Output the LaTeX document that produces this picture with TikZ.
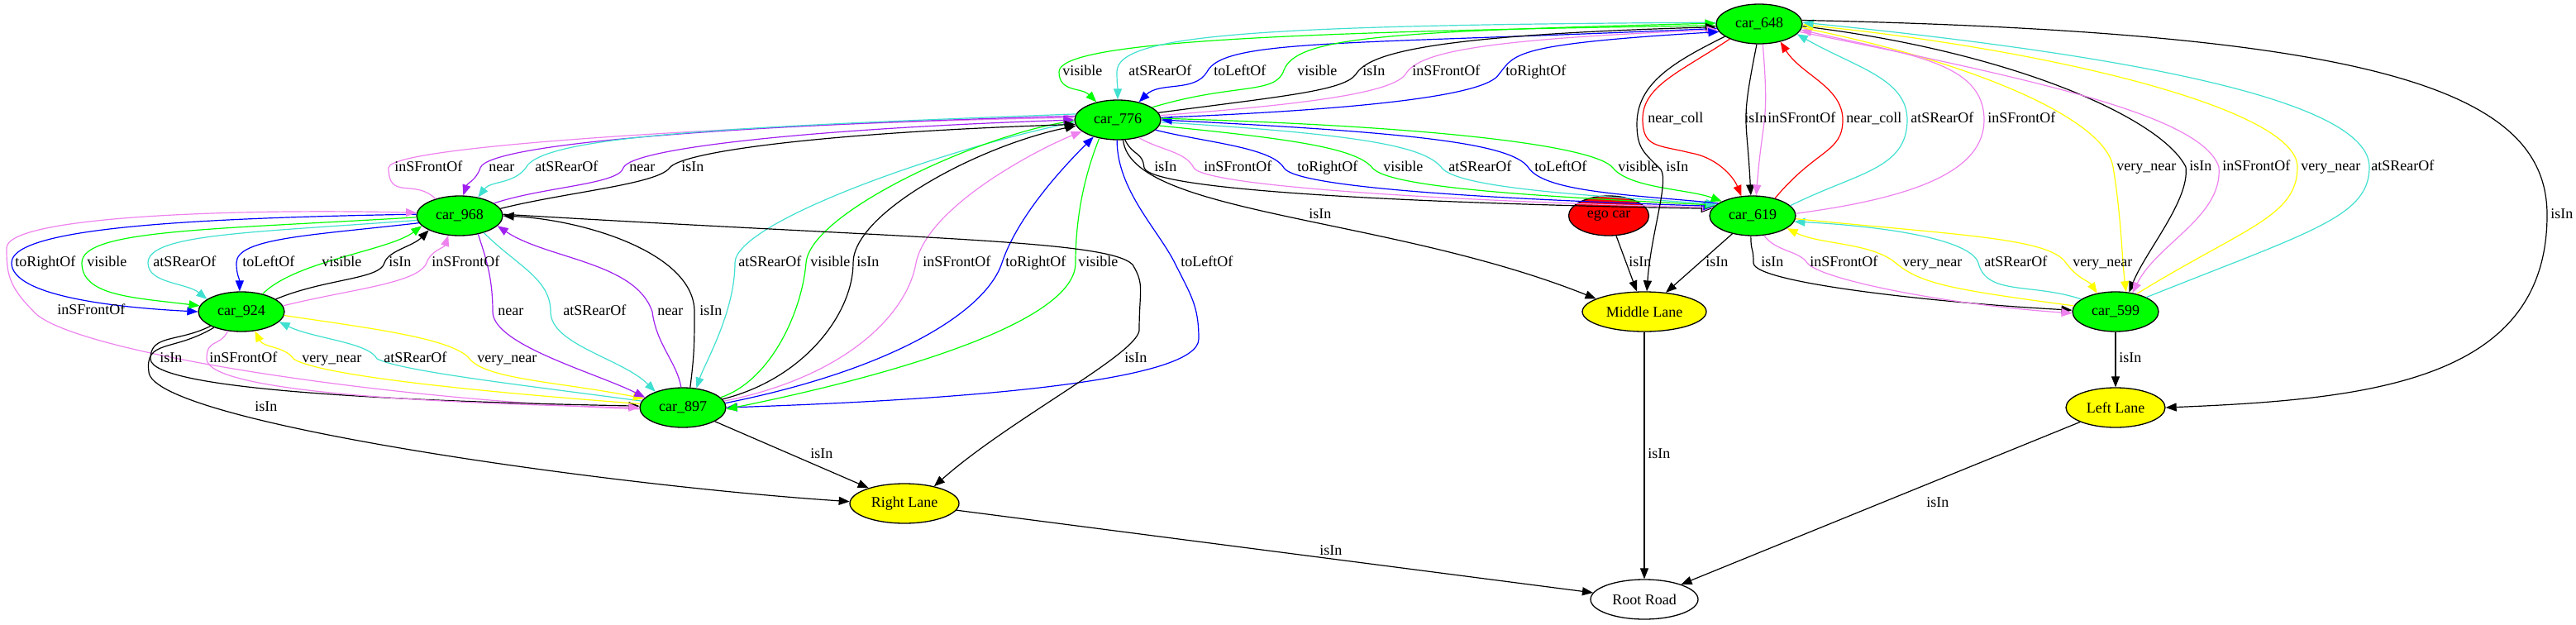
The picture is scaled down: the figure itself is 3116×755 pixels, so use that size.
\documentclass[tikz,border=0pt]{standalone}
\usepackage{fontspec}
\setmainfont{Liberation Serif}
\usetikzlibrary{shapes.geometric,arrows.meta}
\definecolor{cgreen}{HTML}{00FF00}
\definecolor{cturq}{HTML}{40E0D0}
\definecolor{cviolet}{HTML}{EE82EE}
\definecolor{cpurple}{HTML}{A020F0}
\definecolor{cblue}{HTML}{0000FF}
\definecolor{cyellow}{HTML}{FFFF00}
\definecolor{cred}{HTML}{FF0000}
\begin{document}
\begin{tikzpicture}[x=0.5pt,y=0.5pt,
  nbase/.style={ellipse, draw=black, line width=0.65pt, inner sep=0pt, minimum height=24pt, font=\fontsize{9}{10}\selectfont},
  car/.style={nbase, fill=cgreen, minimum width=52pt},
  egocar/.style={nbase, fill=cred, minimum width=48.5pt},
  lane/.style={nbase, fill=cyellow},
  road/.style={nbase, fill=white, minimum width=65pt},
  ed/.style={draw=#1, line width=0.6pt, line join=round, -{Triangle[length=6.5pt,width=5pt]}},
  lb/.style={anchor=west, inner sep=0pt, font=\fontsize{9}{10}\selectfont, text height=6.3pt, text depth=1.8pt}]
\useasboundingbox (0,0) rectangle (3116,-755);

% nodes
\node[car] (n648) at (2128,-29) {car\_648};
\node[car] (n776) at (1352,-145) {car\_776};
\node[car] (n968) at (556,-261) {car\_968};
\node[egocar] (nego) at (1946,-261) {ego car};
\node[car] (n619) at (2120,-261) {car\_619};
\node[car] (n924) at (292,-377) {car\_924};
\node[car] (n599) at (2559,-377) {car\_599};
\node[lane, minimum width=75pt] (nML) at (1989,-377) {Middle Lane};
\node[car] (n897) at (826,-493) {car\_897};
\node[lane, minimum width=60pt] (nLL) at (2559,-493) {Left Lane};
\node[lane, minimum width=66pt] (nRL) at (1094,-609) {Right Lane};
\node[road] (nRR) at (1989,-725) {Root Road};

% car_648 <-> car_776
\draw[ed=cgreen] (n648.182) .. controls +(-550,-8) and +(0,35) .. (1281,-87) .. controls +(0,-25) and +(-18,18) .. (n776.140);
\draw[ed=cturq] (n648.178) .. controls +(-560,-3) and +(0,45) .. (1351,-87) .. controls +(0,-15) and +(0,15) .. (n776.90);
\draw[ed=cblue] (n648.186) .. controls +(-450,-20) and +(20,40) .. (1460,-87) .. controls +(-15,-25) and +(25,25) .. (n776.40);
\draw[ed=cgreen] (n776.20) .. controls +(100,30) and +(-10,-30) .. (1553,-85) .. controls +(15,40) and +(-400,-10) .. (n648.179);
\draw[ed=black] (n776.10) .. controls +(150,20) and +(-15,-20) .. (1640,-90) .. controls +(15,25) and +(-350,-10) .. (n648.184);
\draw[ed=cviolet] (n776.6) .. controls +(200,15) and +(-15,-20) .. (1700,-90) .. controls +(15,25) and +(-300,-12) .. (n648.188);
\draw[ed=cblue] (n776.3) .. controls +(250,10) and +(-15,-25) .. (1813,-90) .. controls +(20,25) and +(-250,-15) .. (n648.191);

% car_776 <-> car_619
\draw[ed=black] (n776.-70) .. controls +(10,-20) and +(-2,20) .. (1384,-203) .. controls +(10,-30) and +(-300,5) .. (n619.170);
\draw[ed=cviolet] (n776.-40) .. controls +(25,-15) and +(-10,20) .. (1444,-203) .. controls +(15,-25) and +(-250,5) .. (n619.168);
\draw[ed=cblue] (n776.-15) .. controls +(60,-15) and +(-15,25) .. (1553,-203) .. controls +(15,-25) and +(-250,8) .. (n619.166);
\draw[ed=cgreen] (n776.-8) .. controls +(150,-15) and +(-20,25) .. (1660,-203) .. controls +(20,-25) and +(-200,10) .. (n619.164);
\draw[ed=cturq] (n776.-3) .. controls +(250,-15) and +(-20,25) .. (1744,-203) .. controls +(20,-25) and +(-150,10) .. (n619.162);
\draw[ed=cblue] (n619.160) .. controls +(-100,10) and +(20,-30) .. (1849,-203) .. controls +(-20,30) and +(300,-15) .. (n776.0);
\draw[ed=cgreen] (n776.2) .. controls +(350,-10) and +(-20,25) .. (1951,-203) .. controls +(20,-25) and +(-40,15) .. (n619.155);

% to Middle Lane
\draw[ed=black] (n776.-75) .. controls +(10,-90) and +(-250,100) .. (nML.165);
\draw[ed=black] (n648.200) .. controls +(-60,-30) and +(0,50) .. (1980,-150) .. controls +(0,-30) and +(-20,20) .. (2009,-205) .. controls +(10,-15) and +(5,70) .. (nML.83);
\draw[ed=black] (nego) -- (nML);
\draw[ed=black] (n619) -- (nML);

% car_648 <-> car_619
\draw[ed=cred] (n648.207) .. controls +(-60,-40) and +(0,40) .. (1987,-144) .. controls +(0,-35) and +(-40,10) .. (2045,-185) .. controls +(30,-5) and +(-10,25) .. (n619.120);
\draw[ed=black] (n648.-97) .. controls +(-20,-100) and +(-5,100) .. (n619.95);
\draw[ed=cviolet] (n648.-80) .. controls +(8,-100) and +(8,100) .. (n619.80);
\draw[ed=cred] (n619.38) .. controls +(50,60) and +(0,-40) .. (2229,-145) .. controls +(0,40) and +(25,-40) .. (n648.-40);
\draw[ed=cturq] (n619.15) .. controls +(80,40) and +(0,-60) .. (2307,-145) .. controls +(0,50) and +(70,-40) .. (n648.-15);
\draw[ed=cviolet] (n619.3) .. controls +(150,20) and +(0,-60) .. (2400,-145) .. controls +(0,70) and +(130,-30) .. (n648.-8);

% car_648 <-> car_599
\draw[ed=cyellow] (n648.-5) .. controls +(200,-40) and +(-10,60) .. (2556,-202) .. controls +(10,-60) and +(-5,40) .. (n599.62);
\draw[ed=black] (n648.-3) .. controls +(250,-30) and +(-30,60) .. (2644,-202) .. controls +(5,-40) and +(20,50) .. (n599.55);
\draw[ed=cviolet] (n648.-11) .. controls +(300,-60) and +(-20,60) .. (2684,-202) .. controls +(5,-60) and +(30,60) .. (n599.48);
\draw[ed=cyellow] (n599.40) .. controls +(130,80) and +(0,-60) .. (2779,-202) .. controls +(0,70) and +(300,-30) .. (n648.-1);
\draw[ed=cturq] (n599.25) .. controls +(200,80) and +(0,-60) .. (2866,-202) .. controls +(0,80) and +(400,-40) .. (n648.2);
\draw[ed=black] (n648.5) .. controls +(700,-15) and +(0,150) .. (3081,-260) .. controls +(0,-200) and +(250,10) .. (nLL.0);

% car_619 <-> car_599
\draw[ed=black] (n619.-95) .. controls +(0,-20) and +(0,20) .. (2121,-318) .. controls +(0,-25) and +(-150,8) .. (n599.178);
\draw[ed=cviolet] (n619.-60) .. controls +(15,-20) and +(-10,15) .. (2186,-318) .. controls +(15,-20) and +(-150,10) .. (n599.182);
\draw[ed=cyellow] (n599.172) .. controls +(-150,20) and +(30,-25) .. (2293,-318) .. controls +(-30,25) and +(40,-20) .. (n619.-20);
\draw[ed=cturq] (n599.160) .. controls +(-60,20) and +(10,-40) .. (2393,-318) .. controls +(-10,30) and +(100,-5) .. (n619.-8);
\draw[ed=cyellow] (n619.-4) .. controls +(200,-20) and +(-20,30) .. (2499,-318) .. controls +(15,-20) and +(-10,15) .. (n599.135);

% lanes and road
\draw[ed=black] (n599) -- (nLL);
\draw[ed=black] (nML) -- (nRR);
\draw[ed=black] (nLL) -- (nRR);
\draw[ed=black] (nRL) -- (nRR);
\draw[ed=black] (n897) -- (nRL);

% car_776 <-> car_897
\draw[ed=cblue] (n776.-92) .. controls +(0,-60) and +(-20,40) .. (1421,-318) .. controls +(20,-40) and +(0,40) .. (1450,-410) .. controls +(0,-50) and +(300,10) .. (n897.0);
\draw[ed=cturq] (n776.183) .. controls +(-150,-30) and +(0,50) .. (889,-318) .. controls +(0,-60) and +(10,30) .. (n897.55);
\draw[ed=cgreen] (n897.15) .. controls +(60,20) and +(-5,-60) .. (975,-318) .. controls +(5,60) and +(-120,-20) .. (n776.181);
\draw[ed=black] (n897.12) .. controls +(100,25) and +(0,-60) .. (1032,-318) .. controls +(0,60) and +(-120,-25) .. (n776.188);
\draw[ed=cviolet] (n897.9) .. controls +(150,30) and +(-10,-60) .. (1108,-318) .. controls +(15,70) and +(-50,-20) .. (n776.198);
\draw[ed=cblue] (n897.6) .. controls +(200,40) and +(-20,-60) .. (1212,-318) .. controls +(20,60) and +(-30,-30) .. (n776.215);
\draw[ed=cgreen] (n776.-135) .. controls +(-20,-50) and +(0,50) .. (1301,-318) .. controls +(0,-80) and +(150,30) .. (n897.-2);

% car_968 <-> car_776
\draw[ed=cviolet] (n968.145) .. controls +(-25,25) and +(0,-40) .. (470,-203) .. controls +(0,30) and +(-300,-5) .. (n776.177);
\draw[ed=cpurple] (n776.175) .. controls +(-400,-10) and +(10,30) .. (581,-203) .. controls +(-5,-15) and +(5,15) .. (n968.80);
\draw[ed=cturq] (n776.172) .. controls +(-400,-15) and +(20,40) .. (636,-203) .. controls +(-15,-20) and +(15,20) .. (n968.45);
\draw[ed=cpurple] (n968.20) .. controls +(60,20) and +(-5,-20) .. (754,-203) .. controls +(10,25) and +(-300,-10) .. (n776.180);
\draw[ed=black] (n968.10) .. controls +(80,20) and +(-15,-20) .. (810,-203) .. controls +(15,20) and +(-300,-10) .. (n776.186);

% car_968 <-> car_924
\draw[ed=cblue] (n968.178) .. controls +(-300,-5) and +(0,40) .. (14,-318) .. controls +(0,-40) and +(-100,5) .. (n924.180);
\draw[ed=cgreen] (n968.182) .. controls +(-250,-15) and +(0,40) .. (99,-318) .. controls +(0,-40) and +(-80,10) .. (n924.172);
\draw[ed=cturq] (n968.186) .. controls +(-200,-15) and +(0,35) .. (179,-318) .. controls +(0,-25) and +(-25,20) .. (n924.160);
\draw[ed=cblue] (n968.190) .. controls +(-130,-15) and +(0,30) .. (286,-318) .. controls +(0,-15) and +(0,15) .. (n924.95);
\draw[ed=cgreen] (n924.40) .. controls +(40,40) and +(-40,-30) .. (n968.195);
\draw[ed=black] (n924.20) .. controls +(60,25) and +(-5,-20) .. (465,-318) .. controls +(5,15) and +(-20,-20) .. (n968.205);
\draw[ed=cviolet] (n924.8) .. controls +(80,20) and +(-10,-25) .. (516,-318) .. controls +(5,15) and +(-5,-15) .. (n968.240);
\draw[ed=cviolet] (n897.182) .. controls +(-300,10) and +(40,-50) .. (40,-376) .. controls +(-30,30) and +(0,-30) .. (8,-300) .. controls +(0,40) and +(-200,5) .. (n968.176);

% car_924 <-> car_897, Right Lane
\draw[ed=black] (n924.205) .. controls +(-40,-20) and +(0,30) .. (182,-434) .. controls +(0,-40) and +(-250,5) .. (n897.178);
\draw[ed=black] (n924.210) .. controls +(-50,-30) and +(-5,40) .. (180,-450) .. controls +(5,-60) and +(-300,20) .. (nRL.178);
\draw[ed=cviolet] (n924.-125) .. controls +(-10,-20) and +(0,25) .. (250,-434) .. controls +(0,-40) and +(-250,5) .. (n897.180);
\draw[ed=cyellow] (n897.175) .. controls +(-200,15) and +(30,-20) .. (355,-434) .. controls +(-10,15) and +(10,-20) .. (n924.-55);
\draw[ed=cturq] (n897.171) .. controls +(-150,20) and +(30,-15) .. (456,-434) .. controls +(-10,20) and +(40,-20) .. (n924.-15);
\draw[ed=cyellow] (n924.-5) .. controls +(100,-15) and +(-20,25) .. (568,-434) .. controls +(20,-25) and +(-100,20) .. (n897.167);

% car_968 <-> car_897, Right Lane
\draw[ed=cpurple] (n968.-45) .. controls +(10,-30) and +(0,40) .. (596,-377) .. controls +(0,-40) and +(-60,30) .. (n897.165);
\draw[ed=cturq] (n968.-35) .. controls +(40,-40) and +(0,40) .. (666,-377) .. controls +(0,-40) and +(-40,40) .. (n897.150);
\draw[ed=cpurple] (n897.95) .. controls +(-5,30) and +(5,-40) .. (789,-377) .. controls +(-20,60) and +(60,-40) .. (n968.-15);
\draw[ed=black] (n897.70) .. controls +(5,40) and +(0,-40) .. (840,-377) .. controls +(0,70) and +(100,-5) .. (n968.0);
\draw[ed=black] (n968.2) .. controls +(500,-30) and +(-30,30) .. (1370,-320) .. controls +(15,-25) and +(0,50) .. (1378,-400) .. controls +(-5,-30) and +(90,80) .. (nRL.30);

% labels
\node[lb] (a1) at (1285,-87) {visible};
\node[lb] (a2) at (1365,-87) {atSRearOf};
\node[lb] (a3) at (1468,-87) {toLeftOf};
\node[lb] (a4) at (1569,-87) {visible};
\node[lb] (a5) at (1648,-87) {isIn};
\node[lb] (a6) at (1708,-87) {inSFrontOf};
\node[lb] (a7) at (1821,-87) {toRightOf};
\node[lb] (b1) at (1993,-144) {near\_coll};
\node[lb] (b2) at (2110,-144) {isIn};
\node[lb] (b3) at (2138,-144) {inSFrontOf};
\node[lb] (b4) at (2233,-144) {near\_coll};
\node[lb] (b5) at (2311,-144) {atSRearOf};
\node[lb] (b6) at (2404,-144) {inSFrontOf};
\node[lb] (c1) at (1396,-203) {isIn};
\node[lb] (c2) at (1456,-203) {inSFrontOf};
\node[lb] (c3) at (1569,-203) {toRightOf};
\node[lb] (c4) at (1673,-203) {visible};
\node[lb] (c5) at (1752,-203) {atSRearOf};
\node[lb] (c6) at (1856,-203) {toLeftOf};
\node[lb] (c7) at (1957,-203) {visible};
\node[lb] (c8) at (2015,-203) {isIn};
\node[lb] (c9) at (477,-203) {inSFrontOf};
\node[lb] (c10) at (591,-203) {near};
\node[lb] (c11) at (647,-203) {atSRearOf};
\node[lb] (c12) at (761,-203) {near};
\node[lb] (c13) at (824,-203) {isIn};
\node[lb] (d1) at (2560,-202) {very\_near};
\node[lb] (d2) at (2648,-202) {isIn};
\node[lb] (d3) at (2688,-202) {inSFrontOf};
\node[lb] (d4) at (2783,-202) {very\_near};
\node[lb] (d5) at (2868,-202) {atSRearOf};
\node[lb] (e1) at (1583,-260) {isIn};
\node[lb] (e2) at (3085,-260) {isIn};
\node[lb] (f1) at (18,-318) {toRightOf};
\node[lb] (f2) at (105,-318) {visible};
\node[lb] (f3) at (185,-318) {atSRearOf};
\node[lb] (f4) at (293,-318) {toLeftOf};
\node[lb] (f5) at (389,-318) {visible};
\node[lb] (f6) at (470,-318) {isIn};
\node[lb] (f7) at (522,-318) {inSFrontOf};
\node[lb] (f8) at (893,-318) {atSRearOf};
\node[lb] (f9) at (980,-318) {visible};
\node[lb] (f10) at (1036,-318) {isIn};
\node[lb] (f11) at (1116,-318) {inSFrontOf};
\node[lb] (f12) at (1216,-318) {toRightOf};
\node[lb] (f13) at (1304,-318) {visible};
\node[lb] (f14) at (1428,-318) {toLeftOf};
\node[lb] (f15) at (1970,-318) {isIn};
\node[lb] (f16) at (2063,-318) {isIn};
\node[lb] (f17) at (2130,-318) {isIn};
\node[lb] (f18) at (2189,-318) {inSFrontOf};
\node[lb] (f19) at (2301,-318) {very\_near};
\node[lb] (f20) at (2400,-318) {atSRearOf};
\node[lb] (f21) at (2507,-318) {very\_near};
\node[lb] (g1) at (69,-376) {inSFrontOf};
\node[lb] (g2) at (602,-377) {near};
\node[lb] (g3) at (681,-377) {atSRearOf};
\node[lb] (g4) at (795,-377) {near};
\node[lb] (g5) at (846,-377) {isIn};
\node[lb] (h1) at (193,-434) {isIn};
\node[lb] (h2) at (253,-434) {inSFrontOf};
\node[lb] (h3) at (365,-434) {very\_near};
\node[lb] (h4) at (464,-434) {atSRearOf};
\node[lb] (h5) at (577,-434) {very\_near};
\node[lb] (h6) at (1360,-434) {isIn};
\node[lb] (h7) at (2563,-434) {isIn};
\node[lb] (i1) at (308,-493) {isIn};
\node[lb] (i2) at (980,-550) {isIn};
\node[lb] (i3) at (1993,-550) {isIn};
\node[lb] (i4) at (2330,-609) {isIn};
\node[lb] (i5) at (1596,-667) {isIn};
\end{tikzpicture}
\end{document}
